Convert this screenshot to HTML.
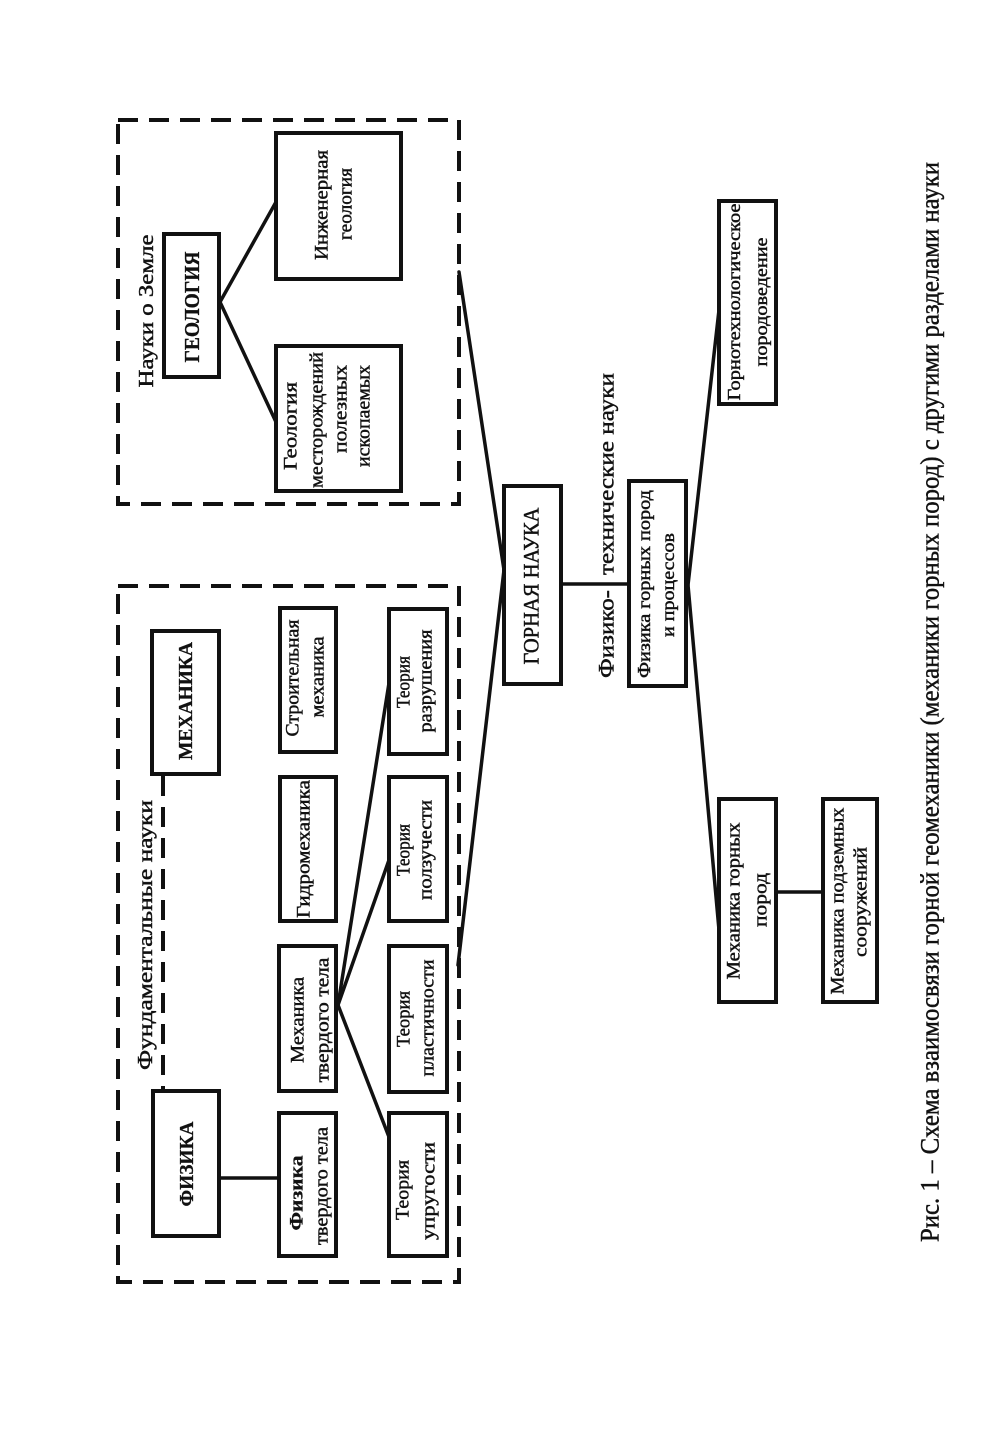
<!DOCTYPE html>
<html>
<head>
<meta charset="utf-8">
<style>
  html, body { margin: 0; padding: 0; background: #ffffff; }
  svg { display: block; }
  text { font-family: "Liberation Serif", "Noto Serif CJK SC", serif; fill: #111; }
  .r { stroke: #111; stroke-width: 0.45; }
  .b { stroke: #111; stroke-width: 0.3; font-weight: bold; }
</style>
</head>
<body>
<svg width="1000" height="1451" viewBox="0 0 1000 1451" xmlns="http://www.w3.org/2000/svg">
  <rect x="0" y="0" width="1000" height="1451" fill="#ffffff"/>

  <!-- Dashed group boxes -->
  <g fill="none" stroke="#111" stroke-width="4" stroke-dasharray="20 11">
    <rect x="118" y="120" width="341" height="384"/>
    <rect x="118" y="586" width="341" height="696"/>
    <line x1="163" y1="776" x2="163" y2="1090"/>
  </g>

  <!-- Connectors -->
  <g stroke="#111" stroke-width="3.5" fill="none" stroke-linecap="round">
    <line x1="220" y1="302" x2="276" y2="202"/>
    <line x1="220" y1="302" x2="276" y2="422"/>
    <line x1="459" y1="272" x2="504" y2="570"/>
    <line x1="504" y1="570" x2="458" y2="965"/>
    <line x1="561" y1="584" x2="629" y2="584"/>
    <line x1="688" y1="585" x2="719" y2="310"/>
    <line x1="688" y1="585" x2="719" y2="930"/>
    <line x1="776" y1="892" x2="823" y2="892"/>
    <line x1="219" y1="1178" x2="279" y2="1178"/>
    <line x1="338" y1="1005" x2="389" y2="683"/>
    <line x1="338" y1="1005" x2="389" y2="860"/>
    <line x1="338" y1="1005" x2="389" y2="1137"/>
  </g>

  <!-- Solid boxes -->
  <g fill="#fff" stroke="#111" stroke-width="4">
    <rect x="164" y="234" width="55" height="143"/>
    <rect x="276" y="133" width="125" height="146"/>
    <rect x="276" y="346" width="125" height="145"/>
    <rect x="152" y="631" width="67" height="143"/>
    <rect x="153" y="1091" width="66" height="145"/>
    <rect x="280" y="608" width="56" height="144"/>
    <rect x="280" y="777" width="56" height="144"/>
    <rect x="279" y="946" width="57" height="145"/>
    <rect x="279" y="1113" width="57" height="143"/>
    <rect x="389" y="609" width="58" height="145"/>
    <rect x="389" y="777" width="58" height="144"/>
    <rect x="389" y="946" width="58" height="146"/>
    <rect x="389" y="1113" width="58" height="143"/>
    <rect x="504" y="486" width="57" height="198"/>
    <rect x="629" y="481" width="57" height="205"/>
    <rect x="719" y="201" width="57" height="203"/>
    <rect x="719" y="799" width="57" height="203"/>
    <rect x="823" y="799" width="54" height="203"/>
  </g>

  <!-- Texts (rotated -90°) -->
  <g text-anchor="middle" dominant-baseline="central">
    <text class="r" transform="translate(146,311) rotate(-90)" font-size="21" textLength="153" lengthAdjust="spacingAndGlyphs">Науки о Земле</text>
    <text class="b" transform="translate(192,307) rotate(-90)" font-size="21" textLength="111" lengthAdjust="spacingAndGlyphs">ГЕОЛОГИЯ</text>

    <text class="r" transform="translate(322,205) rotate(-90)" font-size="19" textLength="110" lengthAdjust="spacingAndGlyphs">Инженерная</text>
    <text class="r" transform="translate(346,204) rotate(-90)" font-size="19" textLength="72" lengthAdjust="spacingAndGlyphs">геология</text>

    <text class="r" transform="translate(291,426) rotate(-90)" font-size="19" textLength="88" lengthAdjust="spacingAndGlyphs">Геология</text>
    <text class="r" transform="translate(317,420) rotate(-90)" font-size="19" textLength="136" lengthAdjust="spacingAndGlyphs">месторождений</text>
    <text class="r" transform="translate(341,409) rotate(-90)" font-size="19" textLength="88" lengthAdjust="spacingAndGlyphs">полезных</text>
    <text class="r" transform="translate(364,416) rotate(-90)" font-size="19" textLength="102" lengthAdjust="spacingAndGlyphs">ископаемых</text>

    <text class="r" transform="translate(145,935) rotate(-90)" font-size="21" textLength="270" lengthAdjust="spacingAndGlyphs">Фундаментальные науки</text>
    <text class="b" transform="translate(186,701) rotate(-90)" font-size="20" textLength="118" lengthAdjust="spacingAndGlyphs">МЕХАНИКА</text>
    <text class="b" transform="translate(187,1164) rotate(-90)" font-size="20" textLength="85" lengthAdjust="spacingAndGlyphs">ФИЗИКА</text>

    <text class="b" transform="translate(297,1193) rotate(-90)" font-size="19" textLength="75" lengthAdjust="spacingAndGlyphs">Физика</text>
    <text class="r" transform="translate(322,1186) rotate(-90)" font-size="19" textLength="118" lengthAdjust="spacingAndGlyphs">твердого тела</text>

    <text class="r" transform="translate(298,1020) rotate(-90)" font-size="19" textLength="86" lengthAdjust="spacingAndGlyphs">Механика</text>
    <text class="r" transform="translate(323,1020) rotate(-90)" font-size="19" textLength="125" lengthAdjust="spacingAndGlyphs">твердого тела</text>

    <text class="r" transform="translate(304,849) rotate(-90)" font-size="19" textLength="138" lengthAdjust="spacingAndGlyphs">Гидромеханика</text>

    <text class="r" transform="translate(293,678) rotate(-90)" font-size="19" textLength="117" lengthAdjust="spacingAndGlyphs">Строительная</text>
    <text class="r" transform="translate(318,677) rotate(-90)" font-size="19" textLength="81" lengthAdjust="spacingAndGlyphs">механика</text>

    <text class="r" transform="translate(404,682) rotate(-90)" font-size="19" textLength="52" lengthAdjust="spacingAndGlyphs">Теория</text>
    <text class="r" transform="translate(426,681) rotate(-90)" font-size="19" textLength="103" lengthAdjust="spacingAndGlyphs">разрушения</text>

    <text class="r" transform="translate(404,850) rotate(-90)" font-size="19" textLength="52" lengthAdjust="spacingAndGlyphs">Теория</text>
    <text class="r" transform="translate(426,850) rotate(-90)" font-size="19" textLength="100" lengthAdjust="spacingAndGlyphs">ползучести</text>

    <text class="r" transform="translate(404,1019) rotate(-90)" font-size="19" textLength="56" lengthAdjust="spacingAndGlyphs">Теория</text>
    <text class="r" transform="translate(428,1018) rotate(-90)" font-size="19" textLength="117" lengthAdjust="spacingAndGlyphs">пластичности</text>

    <text class="r" transform="translate(403,1190) rotate(-90)" font-size="19" textLength="60" lengthAdjust="spacingAndGlyphs">Теория</text>
    <text class="r" transform="translate(429,1191) rotate(-90)" font-size="19" textLength="98" lengthAdjust="spacingAndGlyphs">упругости</text>

    <text class="r" transform="translate(531,586) rotate(-90)" font-size="22" textLength="157" lengthAdjust="spacingAndGlyphs">ГОРНАЯ НАУКА</text>

    <text class="r" transform="translate(606,634) rotate(-90)" font-size="22" textLength="88" lengthAdjust="spacingAndGlyphs">Физико-</text>
    <text class="r" transform="translate(606,474) rotate(-90)" font-size="22" textLength="202" lengthAdjust="spacingAndGlyphs">технические науки</text>

    <text class="r" transform="translate(644,584) rotate(-90)" font-size="18" textLength="188" lengthAdjust="spacingAndGlyphs">Физика горных пород</text>
    <text class="r" transform="translate(668,585) rotate(-90)" font-size="18" textLength="104" lengthAdjust="spacingAndGlyphs">и процессов</text>

    <text class="r" transform="translate(734,302) rotate(-90)" font-size="18" textLength="197" lengthAdjust="spacingAndGlyphs">Горнотехнологическое</text>
    <text class="r" transform="translate(761,302) rotate(-90)" font-size="18" textLength="129" lengthAdjust="spacingAndGlyphs">породоведение</text>

    <text class="r" transform="translate(734,901) rotate(-90)" font-size="19" textLength="157" lengthAdjust="spacingAndGlyphs">Механика горных</text>
    <text class="r" transform="translate(761,900) rotate(-90)" font-size="19" textLength="54" lengthAdjust="spacingAndGlyphs">пород</text>

    <text class="r" transform="translate(838,901) rotate(-90)" font-size="19" textLength="187" lengthAdjust="spacingAndGlyphs">Механика подземных</text>
    <text class="r" transform="translate(861,902) rotate(-90)" font-size="19" textLength="110" lengthAdjust="spacingAndGlyphs">сооружений</text>

    <text class="r" transform="translate(930,702) rotate(-90)" font-size="26" textLength="1080" lengthAdjust="spacingAndGlyphs">Рис. 1 – Схема взаимосвязи горной геомеханики (механики горных пород) с другими разделами науки</text>
  </g>
</svg>
</body>
</html>
